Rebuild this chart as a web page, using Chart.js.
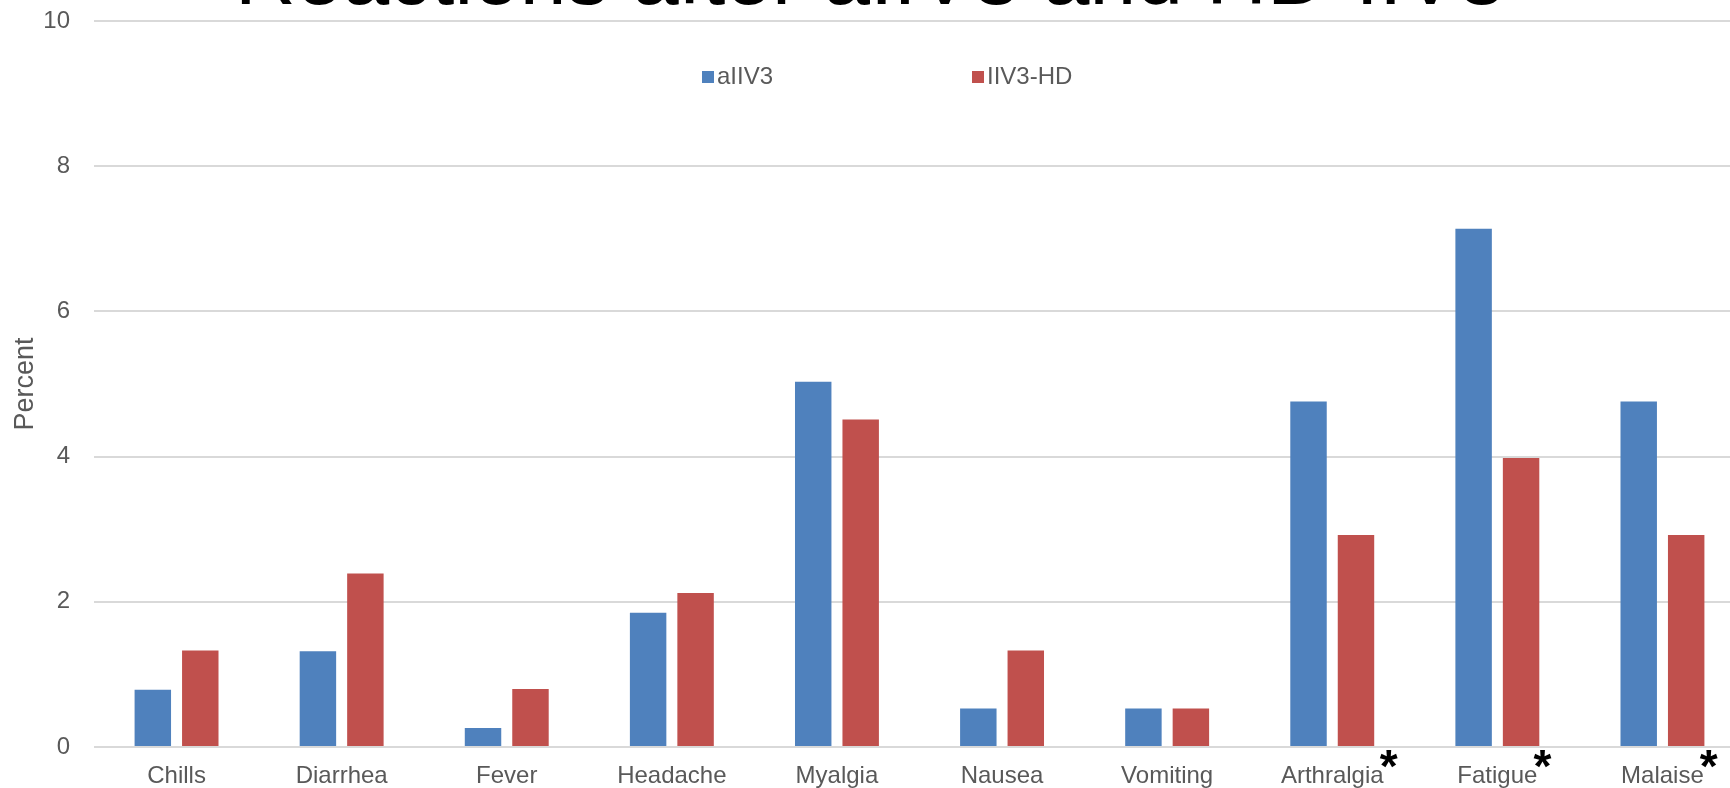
<!DOCTYPE html>
<html>
<head>
<meta charset="utf-8">
<script src="https://cdn.jsdelivr.net/npm/chart.js@4.4.1/dist/chart.umd.min.js"></script>
<style>
html, body { margin: 0; padding: 0; overflow: hidden; background: #fff; }
#wrap { position: absolute; left: 0; top: 0; width: 1745px; height: 788px; }
</style>
</head>
<body>
<div id="wrap"><canvas id="reactGraph"></canvas></div>
<script>
// values, percent of subjects
var categories = ["Chills", "Diarrhea", "Fever", "Headache", "Myalgia", "Nausea", "Vomiting", "Arthralgia", "Fatigue", "Malaise"];
var aIIV3 = [0.79, 1.32, 0.26, 1.85, 5.03, 0.53, 0.53, 4.76, 7.14, 4.76];
var iiv3HD = [1.33, 2.39, 0.80, 2.12, 4.51, 1.33, 0.53, 2.92, 3.98, 2.92];
var starred = ["Arthralgia", "Fatigue", "Malaise"];
var yTicks = [0, 2, 4, 6, 8, 10];
var titleText = "Reactions after aIIV3 and HD-IIV3";

var FONT = '"Liberation Sans", Arial, sans-serif';
var GREY = "#595959";

var extras = {
    id: 'extras',
    afterDraw: function(chart) {
        var ctx = chart.ctx;
        ctx.save();
        // big title, mostly cut off by the top edge
        ctx.fillStyle = "#000";
        ctx.font = "84px " + FONT;
        ctx.textAlign = "center";
        ctx.textBaseline = "alphabetic";
        ctx.fillText(titleText, 870, 4);

        // legend inside the plot
        var legX = [702, 972];
        ctx.font = "24px " + FONT;
        ctx.textAlign = "left";
        ctx.textBaseline = "middle";
        chart.data.datasets.forEach(function(ds, i) {
            ctx.fillStyle = ds.backgroundColor;
            ctx.fillRect(legX[i], 71, 12, 12);
            ctx.fillStyle = GREY;
            ctx.fillText(ds.label, legX[i] + 15, 77);
        });

        // significance stars after some labels
        var xs = chart.scales.x;
        ctx.fillStyle = "#000";
        ctx.textAlign = "center";
        ctx.textBaseline = "alphabetic";
        categories.forEach(function(c, i) {
            if (starred.indexOf(c) < 0) return;
            ctx.font = "24px " + FONT;
            var w = ctx.measureText(c).width;
            ctx.font = "bold 46px " + FONT;
            ctx.fillText("*", xs.getPixelForValue(i) + w / 2 + 5, 782);
        });
        ctx.restore();
    }
};

var ctx = document.getElementById('reactGraph').getContext('2d');
var chart = new Chart(ctx, {
    type: 'bar',
    plugins: [extras],
    data: {
        labels: categories,
        datasets: [{
            label: "aIIV3",
            data: aIIV3,
            backgroundColor: "#4f81bd",
            categoryPercentage: 0.575,
            barPercentage: 0.768
        }, {
            label: "IIV3-HD",
            data: iiv3HD,
            backgroundColor: "#c0504d",
            categoryPercentage: 0.575,
            barPercentage: 0.768
        }]
    },
    options: {
        responsive: true,
        maintainAspectRatio: false,
        animation: false,
        layout: { padding: { top: 21, right: 0, bottom: 0, left: 0 } },
        plugins: {
            legend: { display: false },
            tooltip: { enabled: false }
        },
        scales: {
            x: {
                afterFit: function(scale) { scale.height = 41; },
                grid: { display: false, drawTicks: false },
                border: { display: false },
                ticks: { color: GREY, font: { family: FONT, size: 24, lineHeight: 1 }, padding: 17, maxRotation: 0, autoSkip: false }
            },
            y: {
                min: 0,
                max: 10,
                afterBuildTicks: function(scale) {
                    scale.ticks = yTicks.map(function(v) { return { value: v }; });
                },
                afterFit: function(scale) {
                    scale.width = 94;
                    scale.paddingTop = 0;
                    scale.paddingBottom = 0;
                },
                grid: { color: "#d9d9d9", lineWidth: 2, drawTicks: false },
                border: { display: false },
                ticks: { color: GREY, font: { family: FONT, size: 24 }, padding: 24 },
                title: { display: true, text: "Percent", color: GREY, font: { family: FONT, size: 27 }, padding: { top: 9, bottom: 0 } }
            }
        }
    }
});
</script>
</body>
</html>
